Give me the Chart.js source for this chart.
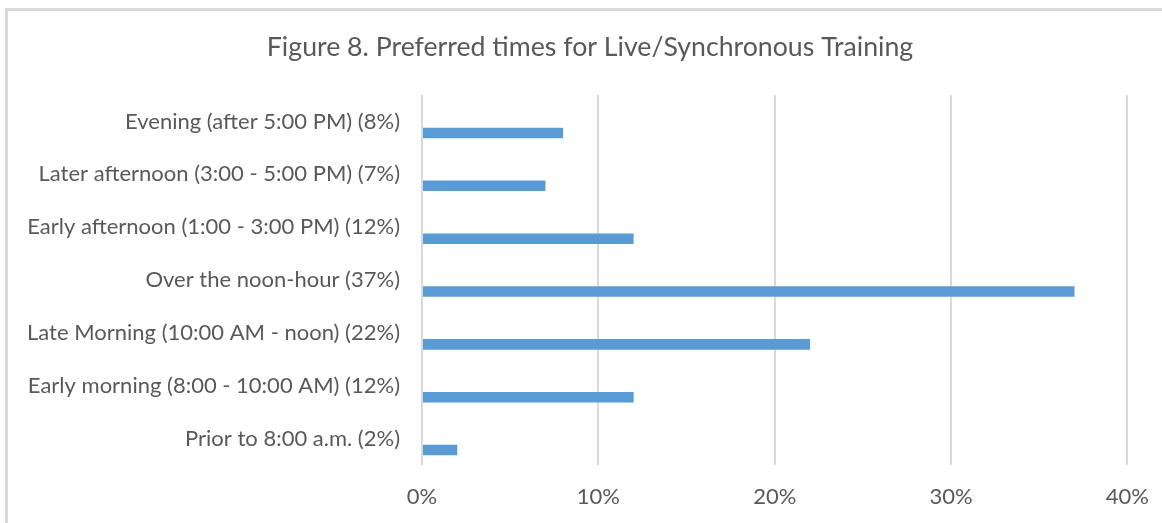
<!DOCTYPE html>
<html>
<head>
<meta charset="utf-8">
<script src="https://cdn.jsdelivr.net/npm/chart.js@4/dist/chart.umd.min.js"></script>
<style>
  html, body { margin: 0; padding: 0; background: #fff; }
  #wrap { position: relative; width: 1162px; height: 523px; overflow: hidden; }
  #frame { position: absolute; left: 5px; top: 8px; right: -10px; bottom: -10px;
           border-top: 3px solid #d9d9d9; border-left: 3px solid #d9d9d9; }
  canvas { position: absolute; left: 0; top: 0; }
</style>
</head>
<body>
<div id="wrap">
  <div id="frame"></div>
  <canvas id="chart" width="1162" height="523"></canvas>
</div>
<script>
// Survey answers, listed top to bottom as they appear on the chart
const categories = [
  "Evening (after 5:00 PM) (8%)",
  "Later afternoon (3:00 - 5:00 PM) (7%)",
  "Early afternoon (1:00 - 3:00 PM) (12%)",
  "Over the noon-hour (37%)",
  "Late Morning (10:00 AM - noon) (22%)",
  "Early morning (8:00 - 10:00 AM) (12%)",
  "Prior to 8:00 a.m. (2%)"
];
const shares = [8, 7, 12, 37, 22, 12, 2];
// empty slot that pushes each bar into the lower part of its row
const emptySlot = [null, null, null, null, null, null, null];
const tickValues = [0, 10, 20, 30, 40];
const titleText = "Figure 8. Preferred times for Live/Synchronous Training";

const FONT = "Lato, 'Open Sans', sans-serif";
const TEXT = "#595959";

new Chart(document.getElementById("chart"), {
  type: "bar",
  data: {
    labels: categories,
    datasets: [
      { label: "", data: emptySlot, backgroundColor: "rgba(0,0,0,0)" },
      { label: "Share", data: shares, backgroundColor: "#5b9bd5", borderWidth: 0 }
    ]
  },
  options: {
    indexAxis: "y",
    responsive: false,
    animation: false,
    categoryPercentage: 0.87,
    barPercentage: 0.46,
    layout: { padding: { left: 18, right: 0, top: 0, bottom: 0 } },
    plugins: {
      legend: { display: false },
      tooltip: { enabled: false },
      title: {
        display: true,
        text: titleText,
        color: TEXT,
        font: { family: FONT, size: 26.7, weight: "normal" },
        lineHeight: 1.2,
        padding: { top: 31, bottom: 32 }
      }
    },
    scales: {
      x: {
        min: 0,
        max: 40,
        afterFit: (s) => { s.height = 58; },
        afterBuildTicks: (s) => { s.ticks = tickValues.map(v => ({ value: v })); },
        grid: { color: "#d9d9d9", lineWidth: 2, drawTicks: true, tickLength: 6, tickColor: "rgba(0,0,0,0)" },
        border: { display: false },
        ticks: {
          padding: 13,
          color: TEXT,
          font: { family: FONT, size: 22 },
          callback: (v) => v + "%"
        }
      },
      y: {
        afterFit: (s) => { s.width = 404; },
        grid: { display: false, drawTicks: false },
        border: { display: false },
        ticks: {
          padding: 22,
          color: TEXT,
          font: { family: FONT, size: 22 }
        }
      }
    }
  }
});
</script>
</body>
</html>
